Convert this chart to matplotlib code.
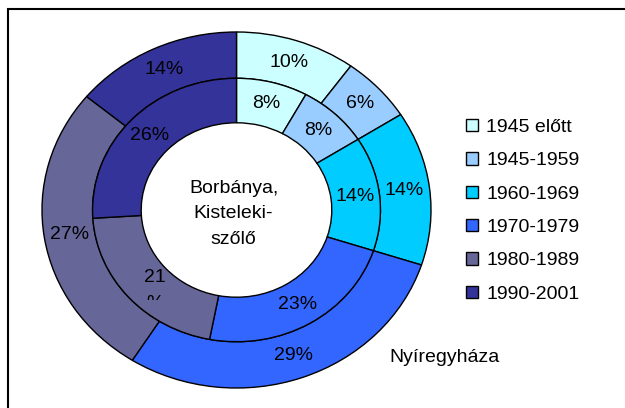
import matplotlib
matplotlib.use('Agg')
from matplotlib import pyplot as plt
from matplotlib.patches import Patch, Rectangle
from matplotlib.transforms import Bbox, TransformedBbox
import numpy as np

plt.rcParams['font.family'] = ['Liberation Sans', 'DejaVu Sans']

# building age shares (%)
periods = ['1945 előtt', '1945-1959', '1960-1969', '1970-1979', '1980-1989', '1990-2001']
nyiregyhaza = [10, 6, 14, 29, 27, 14]       # outer ring
borbanya = [8, 8, 14, 23, 21, 26]           # inner ring
colors = ['#CCFFFF', '#99CCFF', '#00CCFF', '#3366FF', '#666699', '#333399']

fs = 14

fig = plt.figure(figsize=(6.25, 4.08), dpi=100)
ax = fig.add_axes([42 / 625, 20 / 408, 389 / 625, 356 / 408])

wedge_kw = dict(edgecolor='black', linewidth=1.0)
outer, _ = ax.pie(nyiregyhaza, radius=1.0, colors=colors, startangle=90, counterclock=False,
                  wedgeprops=dict(width=0.26, **wedge_kw))
inner, _ = ax.pie(borbanya, radius=0.74, colors=colors, startangle=90, counterclock=False,
                  wedgeprops=dict(width=0.25, **wedge_kw))
ax.set_aspect('auto')
ax.set_xlim(-1, 1)
ax.set_ylim(-1, 1)


def label_ring(wedges, values, r):
    for w, v in zip(wedges, values):
        ang = np.deg2rad((w.theta1 + w.theta2) / 2)
        x, y = r * np.cos(ang), r * np.sin(ang)
        if v == 21:
            # label wrapped and cut off in the original
            t = ax.text(x + 0.04, y - 0.045, f'{v}\n%', ha='center', va='center', fontsize=fs,
                        linespacing=1.75)
            t.set_clip_path(None)
            t.set_clip_box(TransformedBbox(Bbox([[x - 0.3, y - 0.10], [x + 0.3, y + 0.4]]),
                                           ax.transData))
            t.set_clip_on(True)
        else:
            ax.text(x, y, f'{v}%', ha='center', va='center', fontsize=fs)


label_ring(outer, nyiregyhaza, 0.87)
label_ring(inner, borbanya, 0.615)

ax.text(-0.015, -0.02, 'Borbánya,\nKisteleki-\nszőlő', ha='center', va='center',
        fontsize=fs, linespacing=1.65)
ax.text(1.07, -0.826, 'Nyíregyháza', ha='center', va='center', fontsize=fs, clip_on=False)

handles = [Patch(facecolor=c, edgecolor='black', linewidth=1.0) for c in colors]
fig.legend(handles, periods, loc='upper left', bbox_to_anchor=(466 / 625, 1 - 119 / 408),
           frameon=False, fontsize=fs, handlelength=0.6, handleheight=0.6,
           handletextpad=0.45, labelspacing=0.84, borderpad=0, borderaxespad=0)

# chart frame (right and bottom edges fall outside the image)
fig.patches.append(Rectangle((7.5 / 625, -0.2), 1.2, 1.2 - 8.5 / 408, transform=fig.transFigure,
                             fill=False, edgecolor='black', linewidth=1.5))

fig.savefig('out.png', dpi=100)
